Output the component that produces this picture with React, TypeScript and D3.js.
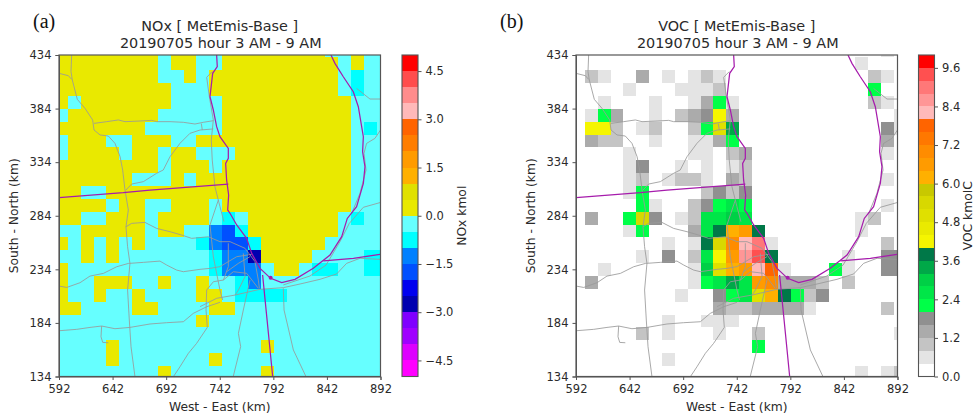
import React, { useEffect, useRef } from 'react';
import * as d3 from 'd3';

// value aliases for the NOx difference field (kmol), one per colour bin
const y = 0.2, l = -0.2, c = -0.7, d = -1.2, e = -1.7, f = -2.7;

const noxGrid: number[][] = [
  [y,y,y,y,y,y,y,y,l,y,y,l,l,y,y,y,y,y,y,y,y,l,l,y,l,l],
  [y,y,y,y,y,y,y,y,l,y,y,l,l,y,y,y,y,y,y,y,y,y,l,y,l,l],
  [y,y,y,y,y,y,y,y,l,l,y,l,y,y,y,y,y,y,y,y,y,y,l,c,l,l],
  [y,y,y,y,y,y,y,y,y,l,l,l,y,y,y,y,y,y,y,y,y,y,l,c,l,l],
  [y,l,y,y,y,y,y,y,y,l,l,l,l,y,y,y,y,y,y,y,y,y,y,l,l,l],
  [l,y,y,y,y,y,y,y,l,l,l,l,l,y,y,y,y,y,y,y,y,y,y,l,l,l],
  [y,y,y,y,y,y,y,l,l,l,l,l,l,y,y,y,y,y,y,y,y,y,y,l,c,l],
  [l,y,y,y,l,l,y,y,y,l,l,y,y,y,y,y,y,y,y,y,y,y,y,l,l,l],
  [l,y,y,y,y,l,y,y,l,y,y,l,l,l,y,y,y,y,y,y,y,y,y,l,l,l],
  [y,y,y,y,y,y,y,y,l,y,y,y,l,y,y,y,y,y,y,y,y,y,y,l,l,l],
  [y,y,y,y,y,y,l,l,l,y,l,y,y,y,y,y,y,y,y,y,y,y,y,l,l,l],
  [y,y,l,l,y,y,y,y,y,y,y,y,y,y,y,y,y,y,y,y,y,y,y,l,l,l],
  [y,y,y,y,l,y,y,l,l,y,y,y,l,y,y,y,y,y,y,y,y,y,y,l,l,l],
  [y,y,l,l,y,y,y,l,y,y,y,y,l,c,l,y,y,y,y,y,y,y,l,c,l,l],
  [l,l,y,y,y,y,y,l,y,y,l,l,d,e,c,y,y,y,y,y,y,y,l,l,l,l],
  [y,l,y,l,y,l,y,l,l,l,l,c,d,e,e,c,y,y,y,y,y,l,l,l,l,l],
  [l,l,y,l,y,l,l,l,l,l,l,l,c,d,d,f,y,y,y,y,l,l,l,l,c,c],
  [y,l,l,l,l,l,l,l,l,l,l,l,c,d,d,d,l,y,y,l,c,c,l,l,c,c],
  [y,l,l,y,y,y,l,l,y,l,l,y,l,l,c,d,l,l,l,l,l,l,l,l,l,l],
  [y,l,l,y,l,l,y,l,l,l,l,y,y,l,c,c,c,c,l,l,l,l,l,l,l,l],
  [y,y,l,l,l,l,y,y,l,l,l,l,y,y,l,l,l,l,l,l,l,l,l,l,l,l],
  [l,l,l,l,l,l,l,l,l,l,l,y,l,l,l,l,l,l,l,l,l,l,l,l,l,l],
  [l,l,l,l,l,l,l,l,l,l,l,l,l,l,l,l,l,l,l,l,l,l,l,l,l,l],
  [l,l,l,l,y,l,l,l,l,l,l,l,l,l,l,l,y,l,l,l,l,l,l,l,l,l],
  [l,l,l,l,y,l,l,l,l,l,l,l,y,l,l,l,l,l,l,l,l,l,l,l,l,l],
  [l,l,l,l,l,l,l,l,y,l,l,l,l,l,l,l,y,l,l,l,l,l,l,l,l,l],
];

// value aliases for the VOC field (kmolC)
const o = 0.2, a = 0.6, b = 1, g = 1.4, h = 1.8;
const G = 2.2, H = 2.6, I = 3, J = 3.4, K = 3.8;
const Y = 4.2, V = 5, W = 5.4;
const P = 6.2, Q = 6.6, R = 7, T = 7.8;
const p1 = 8.2, p2 = 8.6, p3 = 9, p4 = 9.4;

const vocGrid: number[][] = [
  [o,o,o,o,o, o,o,o,o,o, o,o,o,o,o, o,o,o,o,o, o,o,o,o,a, o],
  [o,o,o,o,o, o,o,o,o,o, o,o,o,o,o, o,o,o,o,o, o,o,a,o,o, o],
  [o,b,a,o,o, g,o,a,o,a, b,a,o,o,o, o,o,o,o,o, o,o,o,b,a, o],
  [o,o,o,o,a, o,o,o,a,a, a,b,o,o,o, o,o,o,o,o, o,o,o,G,o, o],
  [o,o,a,o,o, o,a,o,o,a, g,G,a,o,o, o,o,o,o,o, o,o,o,b,a, o],
  [o,a,G,g,o, o,a,o,b,g, h,Y,g,o,o, o,o,o,o,o, o,o,o,o,o, a],
  [o,Y,Y,b,o, a,b,o,o,b, G,V,J,o,o, o,o,o,o,o, o,o,o,o,h, a],
  [o,g,b,b,o, o,a,o,o,a, a,g,G,o,o, o,o,o,o,o, o,o,o,o,g, o],
  [o,o,o,o,a, o,o,o,o,a, a,o,b,g,o, o,o,o,o,o, o,o,o,o,a, o],
  [o,o,o,o,a, h,o,o,a,o, a,o,a,b,o, o,o,o,o,o, o,o,o,o,o, o],
  [o,o,o,o,a, b,o,a,b,b, a,o,g,b,o, o,o,o,o,o, o,o,o,o,a, o],
  [o,o,o,o,a, G,o,o,o,o, b,h,b,h,o, o,o,o,o,o, o,o,o,o,o, o],
  [o,o,o,o,o, G,a,o,o,b, h,G,H,G,o, o,o,o,o,o, o,o,o,o,a, o],
  [o,g,o,o,G, W,h,o,a,b, H,H,I,H,o, o,o,o,o,o, o,o,a,b,o, o],
  [o,o,o,o,a, G,o,o,o,g, H,K,P,Q,K, o,o,o,o,o, o,o,a,o,o, o],
  [o,o,o,o,o, o,o,a,o,a, K,W,R,p1,p3, a,o,o,o,o, o,o,o,o,b, o],
  [o,o,o,o,o, a,o,h,o,b, H,Y,Q,p2,p4, K,o,o,o,o, o,a,o,o,h, h],
  [o,o,a,o,o, o,o,o,o,a, I,V,P,Q,p1, T,a,o,o,o, G,a,o,o,h, h],
  [o,g,o,o,o, o,o,o,o,a, G,H,J,H,Q, R,g,g,g,b, o,b,o,o,o, o],
  [o,o,o,o,o, o,o,o,a,o, o,h,G,H,V, P,K,G,b,h, o,o,o,o,o, o],
  [o,o,o,o,o, o,o,o,o,o, o,g,b,b,g, g,g,g,a,o, o,o,o,o,b, o],
  [o,o,o,o,o, o,o,a,o,o, a,a,a,o,o, o,o,o,o,o, o,o,o,o,o, o],
  [o,o,o,o,o, b,o,a,o,o, o,a,o,o,b, o,o,o,o,o, o,o,o,o,o, a],
  [o,o,o,o,o, o,o,o,o,o, o,o,o,o,G, o,o,o,o,o, o,o,o,o,o, o],
  [o,o,o,o,o, o,o,a,o,o, o,o,o,o,o, o,o,o,o,o, o,o,o,o,o, o],
  [o,o,o,o,o, o,o,o,o,o, o,o,o,o,o, o,o,o,o,o, o,o,a,o,a, b],
];

// colour bins, lowest value first
const noxColors = [
  '#ff00ff', '#dd00ff', '#a000ff', '#8000ff', '#0000b0', '#0000f0', '#0050ff', '#0080ff', '#00ffff', '#66ffff',
  '#e9e900', '#e0e000', '#ffb000', '#ff9b00', '#ff7d00', '#ff6400', '#ffb9b9', '#ff8c8c', '#ff4d4d', '#ff0000',
];
const vocColors = [
  '#ffffff', '#e4e4e4', '#c4c4c4', '#ababab', '#909090', '#00ff48', '#00e648', '#00d046', '#00a848', '#007848',
  '#f5f500', '#eaea00', '#e0e000', '#d8d800', '#c8c800', '#ffb000', '#ff9b00', '#ff8c00', '#ff7800', '#ff6400',
  '#ffb9b9', '#ff9696', '#ff7878', '#ff5050', '#ff0000',
];
const noxTicks = [-4.5, -3, -1.5, 0, 1.5, 3, 4.5];
const vocTicks = [0, 1.2, 2.4, 3.6, 4.8, 6, 7.2, 8.4, 9.6];
const xTicks = [592, 642, 692, 742, 792, 842, 892];
const yTicks = [134, 184, 234, 284, 334, 384, 434];

// map lines in km (west-east, south-north)
type Line = [number, number][];
const roads: Line[] = [
  [[603.8,434],[603.2,418.5],[604.4,410.7],[609.1,392.6],[616.3,384.2],[623.4,373.4],[624.7,364],[630.3,359.4],[638,358.4],[644.2,351.6],[649,339.1],[651.4,326.7],[653.6,308],[656.7,289.4],[654.5,273.7],[656,255.1],[658.2,239.5],[656,214.7],[657.6,186.7],[659.2,161.8],[662.9,133.8]],
  [[592,416.9],[600.7,414.7],[603.8,411.3]],
  [[624.7,370.2],[636.5,371.8],[647.4,373.4],[653.6,371.8],[667.6,372.4],[678.5,373],[683.1,371.8],[695.6,371.8],[708,371.2],[718.9,369.6],[726.7,371.2],[736,372.7]],
  [[654.5,308],[659.8,313.6],[670.7,315.8],[683.1,323.6],[689.3,326.7],[695.6,339.1],[704.9,351.6],[714.2,360.9],[723.6,364],[736,365]],
  [[735,418.5],[729.8,413.2],[732.3,395.1],[736,373.4],[734.1,354.7],[735,336],[737.5,311.2],[742.2,292.5],[745.9,278.5]],
  [[724.8,370],[725.7,364]],
  [[592,218.4],[599.2,217.1],[611.6,221.5],[620.9,227.7],[633.4,230.2],[645.8,236.4],[656.7,239.5],[670.7,240.5],[686.2,241.7],[692.5,238],[701.8,233.3],[708,231.8],[723.6,234],[733,234.9],[742.2,236.5],[757.8,245.8],[771.8,248]],
  [[654.5,273.7],[659.8,276.9],[672.2,277.8],[683.1,272.2],[695.6,269.1],[706.4,266],[715.8,262.9],[731.3,264.4],[742.2,259.8],[751.6,259.8],[765.6,253.6],[774.9,241.2],[778,224],[779,216.3]],
  [[592,176.7],[608.5,178],[620.9,179.8],[631.8,181.1],[644.2,178.6],[658.2,179.8],[676.9,183],[692.5,184.2],[708,185.1],[717.3,192.9],[729.8,199.1],[742.2,203.2]],
  [[631.8,181.1],[631.2,171.1],[632.8,165.8],[638,165.5]],
  [[698.7,133.8],[704.9,143.1],[712.7,155.6],[720.4,164.9],[730.4,179.8],[729.2,196],[729.8,214.7],[736,222.4],[745.4,224]],
  [[740.7,298.7],[732.9,275.4],[736,245.8],[742.2,214.7],[744.7,205.4]],
  [[770.2,224],[764,196],[759.4,174.3],[761.5,161.9],[754.7,134.5]],
  [[801.3,216.3],[802,196],[810.7,158.8],[822.5,133.8]],
  [[723.6,199.2],[739.2,207],[756.3,210],[779.6,215.4],[801.3,216.9],[816.9,220.3],[835.6,224.7],[851.1,229.7],[860.4,239.6],[872.9,244.3],[891.5,243.3]],
  [[801.3,219.4],[826.2,227.8],[841.2,238],[854.2,259.8],[862.9,276.9],[876,291.9],[892,296.4]],
  [[748.5,231.8],[759.4,239.6],[770.2,245.8]],
  [[745.4,224],[754.7,231.8],[767.1,230.3],[778,216.3]],
  [[750,258.3],[750,236.5],[745.4,224]],
  [[764,248.9],[765.6,227.2],[759.4,214.7],[756.3,210]],
  [[869.7,402.8],[882.2,392.9],[892,392.9]],
  [[892,364],[886.8,356.2],[879,351.5],[876.6,342.2],[878.5,326.6],[872.8,304.9],[865.1,286.2]],
];
const boundaries: Line[] = [
  // lake shore
  [[739.1,434],[739.7,423.1],[735.4,416.9],[732.9,395.1],[736,382.7],[739.1,367.1],[742.2,357.8],[750,346.9],[750,337.6],[747.5,332.9],[748.4,317.4],[750.3,303.4],[749.4,289.4],[751.6,286.3],[757.8,275.4],[767.1,262.9],[771.8,248.9],[779.6,234.9],[789.5,225.6],[799.8,221.6],[812.2,224.7],[829.3,235],[844.9,247.4],[855.8,264.5],[861,281.5],[869.7,292.4],[876,314.2],[877.5,329.7],[875.3,343.7],[876,357.7],[871.3,385.7],[866.6,399.7],[857.3,413.7],[849.5,426.2],[845.8,434]],
  // state lines
  [[592,300.9],[652,305.5],[676.9,308],[750,313.6]],
  [[838.7,241.8],[866.7,244.3],[891.5,248]],
  [[782,228.7],[787.4,174.3],[791.4,133.8]],
];

// cell edges of the model grid in km
const gridX0 = 588.3;
const gridY0 = 443.8;
const cellKm = 12;

const font = '"DejaVu Sans", sans-serif';
const textColor = '#2a2a2a';
const frameColor = '#555';

interface PanelSpec {
  id: string;
  tag: string;
  tagX: number;
  title: string;
  left: number;
  grid: number[][];
  colors: string[];
  domain: [number, number];
  ticks: number[];
  tickFormat: string;
  barLeft: number;
  barTitle: string;
  barTitleX: number;
}

const panels: PanelSpec[] = [
  { id: 'nox', tag: '(a)', tagX: 33, title: 'NOx [ MetEmis-Base ]', left: 59, grid: noxGrid, colors: noxColors, domain: [-5, 5], ticks: noxTicks, tickFormat: '.1f', barLeft: 402, barTitle: 'NOx kmol', barTitleX: 466 },
  { id: 'voc', tag: '(b)', tagX: 500, title: 'VOC [ MetEmis-Base ]', left: 576, grid: vocGrid, colors: vocColors, domain: [0, 10], ticks: vocTicks, tickFormat: '.1f', barLeft: 918.5, barTitle: 'VOC kmolC', barTitleX: 972 },
];

const top = 55;
const size = 321.5;
const barWidth = 16;

const styleAxis = (sel: d3.Selection<SVGGElement, unknown, null, undefined>) => {
  sel.selectAll('text').attr('font-family', font).attr('font-size', 11.5).attr('fill', textColor);
  sel.selectAll('line').attr('stroke', frameColor);
  sel.select('.domain').attr('stroke', frameColor);
};

const App = () => {
  const svgRef = useRef<SVGSVGElement>(null);

  useEffect(() => {
    const svg = d3.select(svgRef.current);
    svg.selectAll('*').remove();

    panels.forEach((p) => {
      const xScale = d3.scaleLinear().domain([592, 892]).range([p.left, p.left + size]);
      const yScale = d3.scaleLinear().domain([134, 434]).range([top + size, top]);
      const color = d3.scaleQuantize<string>().domain(p.domain).range(p.colors);
      const line = d3.line<[number, number]>().x((v) => xScale(v[0])).y((v) => yScale(v[1]));

      svg.append('clipPath').attr('id', `clip-${p.id}`).append('rect')
        .attr('x', p.left).attr('y', top).attr('width', size).attr('height', size);

      const plot = svg.append('g').attr('clip-path', `url(#clip-${p.id})`);
      p.grid.forEach((row, r) => {
        row.forEach((value, col) => {
          const x0 = xScale(gridX0 + col * cellKm);
          const y0 = yScale(gridY0 - r * cellKm);
          plot.append('rect')
            .attr('x', x0)
            .attr('y', y0)
            .attr('width', xScale(gridX0 + (col + 1) * cellKm) - x0)
            .attr('height', yScale(gridY0 - (r + 1) * cellKm) - y0)
            .attr('fill', color(value))
            .attr('shape-rendering', 'crispEdges');
        });
      });

      plot.selectAll('path.road').data(roads).enter().append('path')
        .attr('class', 'road')
        .attr('d', (v) => line(v))
        .attr('fill', 'none')
        .attr('stroke', '#9a9a9a')
        .attr('stroke-width', 0.85);
      plot.selectAll('path.boundary').data(boundaries).enter().append('path')
        .attr('class', 'boundary')
        .attr('d', (v) => line(v))
        .attr('fill', 'none')
        .attr('stroke', '#a61cac')
        .attr('stroke-width', 1.25);
      plot.append('circle')
        .attr('cx', xScale(789.5)).attr('cy', yScale(226.2)).attr('r', 2).attr('fill', '#a61cac');

      // frame
      svg.append('rect')
        .attr('x', p.left).attr('y', top).attr('width', size).attr('height', size)
        .attr('fill', 'none').attr('stroke', frameColor).attr('stroke-width', 1.2);

      const xAxis = svg.append('g')
        .attr('transform', `translate(0,${top + size})`)
        .call(d3.axisBottom(xScale).tickValues(xTicks).tickFormat(d3.format('d')).tickSizeOuter(0).tickSize(3.5).tickPadding(4.5));
      styleAxis(xAxis);
      const yAxis = svg.append('g')
        .attr('transform', `translate(${p.left},0)`)
        .call(d3.axisLeft(yScale).tickValues(yTicks).tickFormat(d3.format('d')).tickSizeOuter(0).tickSize(3.5).tickPadding(4));
      styleAxis(yAxis);

      const label = (text: string, x: number, yPos: number, fontSize: number, rotate = false) => {
        const t = svg.append('text')
          .attr('text-anchor', 'middle')
          .attr('font-family', font)
          .attr('font-size', fontSize)
          .attr('fill', textColor)
          .text(text);
        if (rotate) t.attr('transform', `translate(${x},${yPos}) rotate(-90)`);
        else t.attr('x', x).attr('y', yPos);
      };

      const center = p.left + size / 2;
      label(p.title, center, 31, 14.4);
      label('20190705 hour 3 AM - 9 AM', center + 1, 48, 14.4);
      label('West - East (km)', center, 411, 12.3);
      label('South - North (km)', p.left - 41, top + size / 2, 12.3, true);

      svg.append('text')
        .attr('x', p.tagX).attr('y', 28)
        .attr('font-family', '"Liberation Serif", serif')
        .attr('font-size', 20)
        .attr('fill', '#111')
        .text(p.tag);

      // colour bar
      const barScale = d3.scaleLinear().domain(p.domain).range([top + size, top]);
      const binSize = (p.domain[1] - p.domain[0]) / p.colors.length;
      svg.append('g').selectAll('rect').data(p.colors).enter().append('rect')
        .attr('x', p.barLeft)
        .attr('y', (_, i) => barScale(p.domain[0] + (i + 1) * binSize))
        .attr('width', barWidth)
        .attr('height', size / p.colors.length)
        .attr('fill', (v) => v)
        .attr('shape-rendering', 'crispEdges');
      svg.append('rect')
        .attr('x', p.barLeft).attr('y', top).attr('width', barWidth).attr('height', size)
        .attr('fill', 'none').attr('stroke', frameColor).attr('stroke-width', 1.1);
      const barAxis = svg.append('g')
        .attr('transform', `translate(${p.barLeft + barWidth},0)`)
        .call(d3.axisRight(barScale).tickValues(p.ticks).tickFormat(d3.format(p.tickFormat)).tickSizeOuter(0).tickSize(3.5).tickPadding(4));
      styleAxis(barAxis);
      barAxis.select('.domain').remove();
      label(p.barTitle, p.barTitleX, top + size / 2, 12.3, true);
    });
  }, []);

  return <svg ref={svgRef} width={979} height={414} style={{ position: 'absolute', left: 0, top: 0, background: '#fff' }} />;
};

export default App;
